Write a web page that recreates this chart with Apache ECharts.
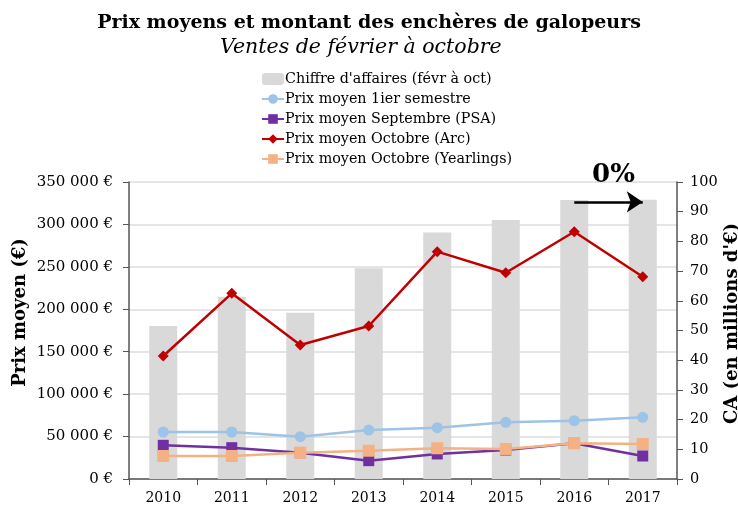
<!DOCTYPE html>
<html><head><meta charset="utf-8">
<script src="https://cdn.jsdelivr.net/npm/echarts@6/dist/echarts.min.js"></script>
<style>html,body{margin:0;padding:0;background:#fff}#c{width:738px;height:507px}</style>
</head><body><div id="c"></div>
<script>
const years = ['2010','2011','2012','2013','2014','2015','2016','2017'];
const caMillions = [51.5, 61.4, 56, 71, 83, 87.2, 93.9, 94];
const prix1erSemestre = [55400, 55400, 49900, 57700, 60500, 66800, 68700, 72700];
const prixSeptembre = [39700, 36900, 31000, 21600, 29500, 34200, 42100, 27100];
const prixArc = [145000, 218800, 157900, 180300, 267900, 243100, 291400, 238400];
const prixYearlings = [27100, 27100, 31000, 33300, 36200, 35400, 42100, 41200];
const leftTicks = {min: 0, max: 350000, interval: 50000};
const rightTicks = {min: 0, max: 100, interval: 10};
const evolutionLabel = '0%';
const arrowFrom = '2016', arrowTo = '2017', arrowLevel = 93.3;

const FONT = '"DejaVu Serif", "Liberation Serif", serif';
const chart = echarts.init(document.getElementById('c'), null, {renderer: 'canvas'});
function fmtEuro(v){ return String(v).replace(/\B(?=(\d{3})+(?!\d))/g, ' ') + ' €'; }

chart.setOption({
  animation: false,
  textStyle: {fontFamily: FONT},
  title: [{
    text: 'Prix moyens et montant des enchères de galopeurs',
    left: 'center', top: 9,
    textStyle: {fontFamily: FONT, fontSize: 19, fontWeight: 'bold', color: '#000'}
  }, {
    text: 'Ventes de février à octobre',
    left: 215, top: 33,
    textStyle: {fontFamily: FONT, fontSize: 20.5, fontWeight: 'normal', fontStyle: 'italic', color: '#000'}
  }],
  legend: {
    orient: 'vertical', left: 256, top: 67, itemGap: 6,
    itemWidth: 22, itemHeight: 12,
    textStyle: {fontFamily: FONT, fontSize: 14.3, color: '#000', padding: [0,0,0,-4]},
    data: ['Chiffre d\'affaires (févr à oct)', 'Prix moyen 1ier semestre', 'Prix moyen Septembre (PSA)', 'Prix moyen Octobre (Arc)', 'Prix moyen Octobre (Yearlings)']
  },
  grid: {left: 129, right: 61, top: 182, bottom: 28, outerBoundsMode: 'none', containLabel: false},
  xAxis: {
    type: 'category', data: years, boundaryGap: true,
    axisLine: {lineStyle: {color: '#555', width: 1.5}},
    axisTick: {show: true, alignWithLabel: false, length: 6, lineStyle: {color: '#555'}},
    axisLabel: {fontFamily: FONT, fontSize: 14, color: '#000', margin: 12}
  },
  yAxis: [{
    type: 'value', position: 'left', min: leftTicks.min, max: leftTicks.max, interval: leftTicks.interval,
    name: 'Prix moyen (€)', nameLocation: 'middle', nameGap: 100, nameRotate: 90, nameMoveOverlap: false,
    nameTextStyle: {fontFamily: FONT, fontSize: 18, fontWeight: 'bold', color: '#000', padding: [0,0,0,36]},
    axisLine: {show: true, lineStyle: {color: '#555', width: 1.5}},
    axisTick: {show: true, length: 6, lineStyle: {color: '#555'}},
    axisLabel: {fontFamily: FONT, fontSize: 15, color: '#000', margin: 16, formatter: fmtEuro},
    splitLine: {show: true, lineStyle: {color: '#dcdcdc', width: 1.5}}
  }, {
    type: 'value', position: 'right', min: rightTicks.min, max: rightTicks.max, interval: rightTicks.interval,
    name: 'CA (en millions d\'€)', nameLocation: 'middle', nameGap: 46, nameRotate: 90, nameMoveOverlap: false,
    nameTextStyle: {fontFamily: FONT, fontSize: 18, fontWeight: 'bold', color: '#000', padding: [0,0,0,14]},
    axisLine: {show: true, lineStyle: {color: '#555', width: 1.5}},
    axisTick: {show: true, length: 6, lineStyle: {color: '#555'}},
    axisLabel: {fontFamily: FONT, fontSize: 14.5, color: '#000', margin: 13},
    splitLine: {show: false}
  }],
  series: [{
    name: 'Chiffre d\'affaires (févr à oct)', type: 'bar', yAxisIndex: 1, data: caMillions,
    barWidth: 28, itemStyle: {color: '#d9d9d9'}, z: 1,
    markLine: {
      silent: true, symbol: ['none', 'arrow'], symbolSize: 16,
      lineStyle: {color: '#000', width: 2.5, type: 'solid'},
      label: {show: true, position: 'insideMiddleTop', formatter: evolutionLabel, distance: 14,
        fontFamily: FONT, fontSize: 26, fontWeight: 'bold', color: '#000', offset: [5, 0]},
      data: [[{coord: [arrowFrom, arrowLevel]}, {coord: [arrowTo, arrowLevel]}]]
    }
  }, {
    name: 'Prix moyen 1ier semestre', type: 'line', yAxisIndex: 0, data: prix1erSemestre,
    symbol: 'circle', symbolSize: 11, itemStyle: {color: '#9dc3e6'}, lineStyle: {color: '#9dc3e6', width: 2.5}, z: 3
  }, {
    name: 'Prix moyen Septembre (PSA)', type: 'line', yAxisIndex: 0, data: prixSeptembre,
    symbol: 'rect', symbolSize: 11, itemStyle: {color: '#7030a0'}, lineStyle: {color: '#7030a0', width: 2.5}, z: 3
  }, {
    name: 'Prix moyen Octobre (Arc)', type: 'line', yAxisIndex: 0, data: prixArc,
    symbol: 'diamond', symbolSize: 11, itemStyle: {color: '#c00000'}, lineStyle: {color: '#c00000', width: 2.5}, z: 4
  }, {
    name: 'Prix moyen Octobre (Yearlings)', type: 'line', yAxisIndex: 0, data: prixYearlings,
    symbol: 'rect', symbolSize: 12, itemStyle: {color: '#f4b183'}, lineStyle: {color: '#f4b183', width: 2.5}, z: 3
  }]
});
</script></body></html>
